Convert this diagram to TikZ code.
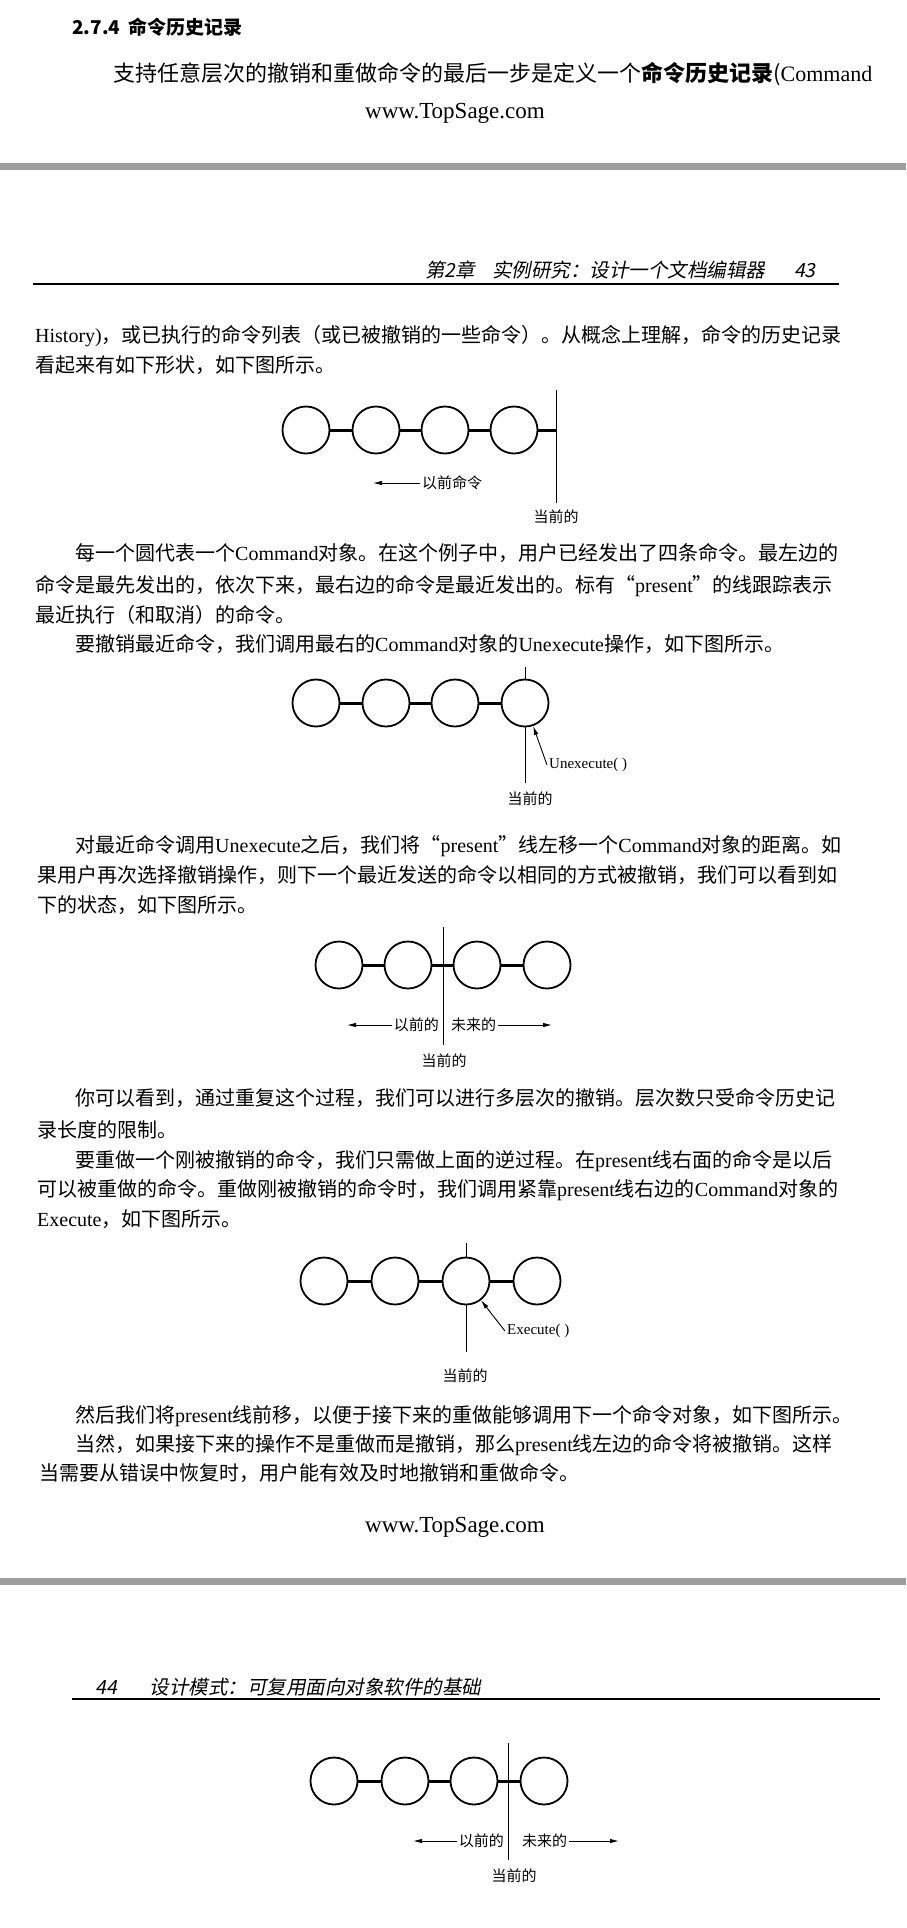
\documentclass[tikz,border=0pt]{standalone}
\usepackage{fontspec}
\setmainfont{Noto Sans CJK SC}
\newfontfamily\latfont{Liberation Serif}
\newfontfamily\hdfont[FakeSlant=0.2]{Noto Sans CJK SC}
\newcommand{\lat}[1]{{\latfont #1}}
\usetikzlibrary{arrows.meta}

\begin{document}
\begin{tikzpicture}[x=1pt,y=-1pt]
  \tikzstyle{cmd}=[circle, draw, line width=1.8pt, minimum size=47pt, inner sep=0pt]
  \tikzstyle{link}=[line width=3pt]
  \tikzstyle{pline}=[line width=1pt]
  \tikzstyle{ptr}=[-{Latex[length=9pt,width=4.5pt]}, line width=0.9pt]
  \tikzstyle{lbl}=[font=\fontsize{15}{18}\selectfont, inner sep=2pt]
  \tikzstyle{body}=[anchor=base west, inner sep=0pt, font=\fontsize{20}{24}\selectfont]
  \tikzstyle{hdr}=[anchor=base west, inner sep=0pt, font=\hdfont\fontsize{19.5}{24}\selectfont]
  \tikzstyle{site}=[inner sep=0pt, font=\latfont\fontsize{23}{27}\selectfont]

  \fill[white] (0,0) rectangle (906,1928);
  \useasboundingbox (0,0) rectangle (906,1928);

  % end of page 42
  \node[anchor=base west, inner sep=0pt, font=\bfseries\fontsize{19}{24}\selectfont] (sec) at (72,34) {2.7.4\hspace{8pt}命令历史记录};
  \node[anchor=base west, inner sep=0pt, font=\fontsize{22}{26}\selectfont] (t0) at (113,81) {支持任意层次的撤销和重做命令的最后一步是定义一个\textbf{命令历史记录}(\lat{Command}};
  \node[site] (www1) at (455,113) {www.TopSage.com};
  \fill[black!38] (0,163) rectangle (906,170);

  % page 43
  \node[hdr] (hd1) at (425,277) {第2章\hspace{17pt}实例研究：设计一个文档编辑器\hspace{29pt}43};
  \draw[line width=2pt] (33,284) -- (839,284);

  \node[body] (t1) at (35,342) {\lat{History)}，或已执行的命令列表（或已被撤销的一些命令）。从概念上理解，命令的历史记录};
  \node[body] (t2) at (35,372) {看起来有如下形状，如下图所示。};

  \node[cmd] (a1) at (306,430) {};
  \node[cmd] (a2) at (376,430) {};
  \node[cmd] (a3) at (445,430) {};
  \node[cmd] (a4) at (514,430) {};
  \coordinate (pa1) at (556,390);
  \coordinate (pa2) at (556,503);
  \draw[link] (a1) -- (a2);
  \draw[link] (a2) -- (a3);
  \draw[link] (a3) -- (a4);
  \draw[link] (a4) -- (a4 -| pa1);
  \draw[pline] (pa1) -- (pa2);
  \node[lbl, anchor=west] (aprev) at (420,483) {以前命令};
  \coordinate (atip) at (373,483);
  \draw[ptr] (aprev) -- (atip);
  \node[lbl] (anow) at (556,517) {当前的};

  \node[body] (t3) at (75,560) {每一个圆代表一个\lat{Command}对象。在这个例子中，用户已经发出了四条命令。最左边的};
  \node[body] (t4) at (35,592) {命令是最先发出的，依次下来，最右边的命令是最近发出的。标有“\lat{present}”的线跟踪表示};
  \node[body] (t5) at (35,622) {最近执行（和取消）的命令。};
  \node[body] (t6) at (75,651) {要撤销最近命令，我们调用最右的\lat{Command}对象的\lat{Unexecute}操作，如下图所示。};

  \node[cmd] (b1) at (316,703) {};
  \node[cmd] (b2) at (386,703) {};
  \node[cmd] (b3) at (455,703) {};
  \node[cmd] (b4) at (525,703) {};
  \coordinate (pb1) at (525,667);
  \coordinate (pb2) at (525,783);
  \draw[link] (b1) -- (b2);
  \draw[link] (b2) -- (b3);
  \draw[link] (b3) -- (b4);
  \draw[pline] (pb1) -- (b4.north);
  \draw[pline] (b4.south) -- (pb2);
  \node[lbl, anchor=west, font=\latfont\fontsize{15}{18}\selectfont] (bun) at (547,765) {Unexecute( )};
  \draw[ptr] (bun.west) -- (b4);
  \node[lbl] (bnow) at (530,799) {当前的};

  \node[body] (t7) at (75,852) {对最近命令调用\lat{Unexecute}之后，我们将“\lat{present}”线左移一个\lat{Command}对象的距离。如};
  \node[body] (t8) at (37,882) {果用户再次选择撤销操作，则下一个最近发送的命令以相同的方式被撤销，我们可以看到如};
  \node[body] (t9) at (37,912) {下的状态，如下图所示。};

  \node[cmd] (c1) at (339,965) {};
  \node[cmd] (c2) at (408,965) {};
  \node[cmd] (c3) at (477,965) {};
  \node[cmd] (c4) at (547,965) {};
  \coordinate (pc1) at (443,927);
  \coordinate (pc2) at (443,1045);
  \draw[link] (c1) -- (c2);
  \draw[link] (c2) -- (c3);
  \draw[link] (c3) -- (c4);
  \draw[pline] (pc1) -- (pc2);
  \node[lbl, anchor=east] (cprev) at (441,1025) {以前的};
  \node[lbl, anchor=west] (cnext) at (449,1025) {未来的};
  \coordinate (ctipl) at (347,1025);
  \coordinate (ctipr) at (552,1025);
  \draw[ptr] (cprev) -- (ctipl);
  \draw[ptr] (cnext) -- (ctipr);
  \node[lbl] (cnow) at (444,1061) {当前的};

  \node[body] (t10) at (75,1105) {你可以看到，通过重复这个过程，我们可以进行多层次的撤销。层次数只受命令历史记};
  \node[body] (t11) at (37,1137) {录长度的限制。};
  \node[body] (t12) at (75,1167) {要重做一个刚被撤销的命令，我们只需做上面的逆过程。在\lat{present}线右面的命令是以后};
  \node[body] (t13) at (37,1196) {可以被重做的命令。重做刚被撤销的命令时，我们调用紧靠\lat{present}线右边的\lat{Command}对象的};
  \node[body] (t14) at (37,1226) {\lat{Execute}，如下图所示。};

  \node[cmd] (d1) at (324,1281) {};
  \node[cmd] (d2) at (395,1281) {};
  \node[cmd] (d3) at (466,1281) {};
  \node[cmd] (d4) at (537,1281) {};
  \coordinate (pd1) at (466,1243);
  \coordinate (pd2) at (466,1352);
  \draw[link] (d1) -- (d2);
  \draw[link] (d2) -- (d3);
  \draw[link] (d3) -- (d4);
  \draw[pline] (pd1) -- (d3.north);
  \draw[pline] (d3.south) -- (pd2);
  \node[lbl, anchor=west, font=\latfont\fontsize{15}{18}\selectfont] (dex) at (505,1331) {Execute( )};
  \draw[ptr] (dex.west) -- (d3);
  \node[lbl] (dnow) at (465,1376) {当前的};

  \node[body] (t15) at (75,1422) {然后我们将\lat{present}线前移，以便于接下来的重做能够调用下一个命令对象，如下图所示。};
  \node[body] (t16) at (75,1451) {当然，如果接下来的操作不是重做而是撤销，那么\lat{present}线左边的命令将被撤销。这样};
  \node[body] (t17) at (39,1480) {当需要从错误中恢复时，用户能有效及时地撤销和重做命令。};
  \node[site] (www2) at (455,1527) {www.TopSage.com};
  \fill[black!38] (0,1578) rectangle (906,1585);

  % page 44
  \node[hdr] (hd2) at (95,1694) {44\hspace{33pt}设计模式：可复用面向对象软件的基础};
  \draw[line width=2pt] (72,1699) -- (880,1699);

  \node[cmd] (e1) at (334,1781) {};
  \node[cmd] (e2) at (405,1781) {};
  \node[cmd] (e3) at (474,1781) {};
  \node[cmd] (e4) at (544,1781) {};
  \coordinate (pe1) at (508,1743);
  \coordinate (pe2) at (508,1860);
  \draw[link] (e1) -- (e2);
  \draw[link] (e2) -- (e3);
  \draw[link] (e3) -- (e4);
  \draw[pline] (pe1) -- (pe2);
  \node[lbl, anchor=east] (eprev) at (506,1841) {以前的};
  \node[lbl, anchor=west] (enext) at (520,1841) {未来的};
  \coordinate (etipl) at (413,1841);
  \coordinate (etipr) at (619,1841);
  \draw[ptr] (eprev) -- (etipl);
  \draw[ptr] (enext) -- (etipr);
  \node[lbl] (enow) at (514,1876) {当前的};
\end{tikzpicture}
\end{document}
